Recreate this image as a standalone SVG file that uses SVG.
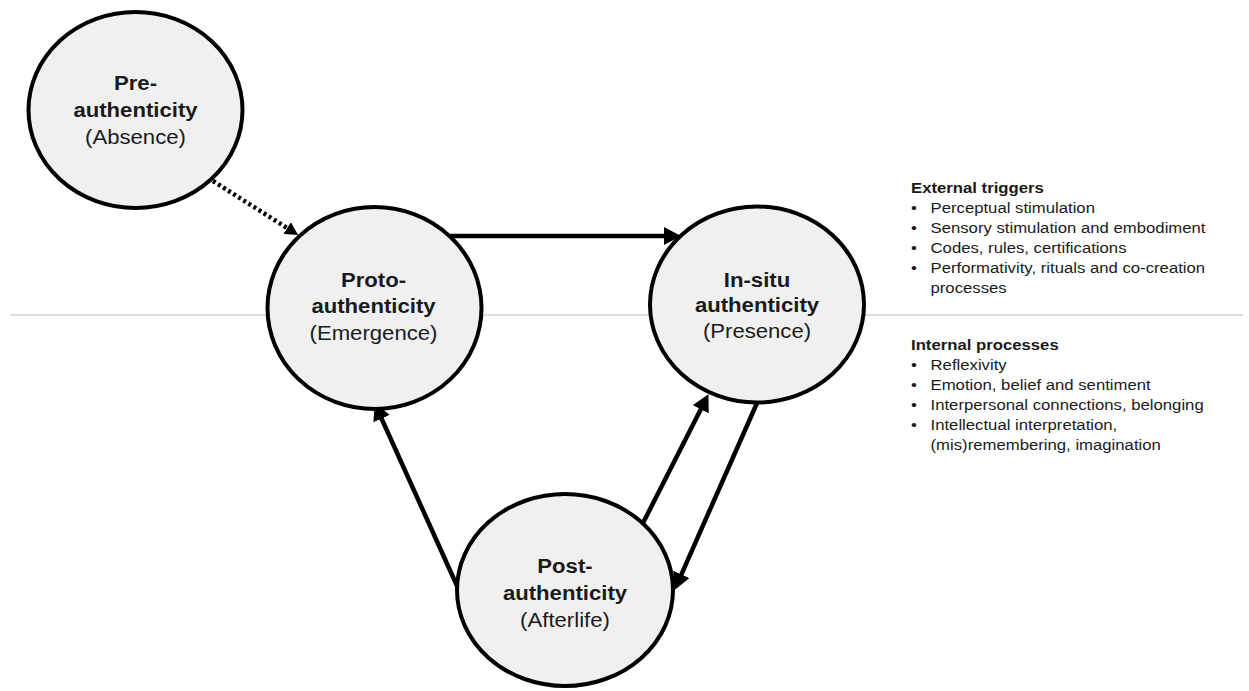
<svg xmlns="http://www.w3.org/2000/svg" width="1249" height="691" viewBox="0 0 1249 691">
<style>
.node ellipse{fill:#f0f0f0;stroke:#000;stroke-width:4}
.t{font-family:"Liberation Sans",Arial,sans-serif;fill:#1a1a1a;text-anchor:middle;font-size:20.5px}
.b{font-weight:bold}
.conn line{stroke:#000;stroke-width:4.5;fill:none}
.side{font-family:"Liberation Sans",Arial,sans-serif;fill:#1a1a1a;font-size:15px}
</style>
<defs>
<marker id="ah" markerUnits="userSpaceOnUse" viewBox="0 0 17 18" markerWidth="17" markerHeight="18" refX="1" refY="9" orient="auto"><path d="M0,0 L17,9 L0,18 z" fill="#000"/></marker>
<marker id="ahs" markerUnits="userSpaceOnUse" viewBox="0 0 13 14" markerWidth="13" markerHeight="14" refX="1" refY="7" orient="auto"><path d="M0,0 L13,7 L0,14 z" fill="#000"/></marker>
</defs>
<rect width="1249" height="691" fill="#fff"/>
<line x1="10" y1="315" x2="1243" y2="315" stroke="#d0d0d0" stroke-width="1.5"/>
<g class="conn" id="connectors">
<line x1="213" y1="181" x2="288" y2="228.6" stroke-dasharray="3 3" stroke-width="4" marker-end="url(#ahs)"/>
<line x1="450" y1="236" x2="665" y2="236" marker-end="url(#ah)"/>
<line x1="458" y1="588" x2="381.2" y2="417.7" marker-end="url(#ah)"/>
<line x1="643" y1="523" x2="701.2" y2="408.4" marker-end="url(#ah)"/>
<line x1="757" y1="403" x2="681" y2="575.3" marker-end="url(#ah)"/>
</g>
<g class="node" id="pre">
<ellipse cx="135.5" cy="110" rx="107" ry="98"/>
<g transform="translate(135.5,0) scale(1.08,1)">
<text class="t b" x="0" y="90">Pre-</text>
<text class="t b" x="0" y="117">authenticity</text>
<text class="t" x="0" y="144">(Absence)</text>
</g>
</g>
<g class="node" id="proto">
<ellipse cx="374.5" cy="308" rx="107" ry="101"/>
<g transform="translate(373.5,0) scale(1.08,1)">
<text class="t b" x="0" y="287">Proto-</text>
<text class="t b" x="0" y="313">authenticity</text>
<text class="t" x="0" y="340">(Emergence)</text>
</g>
</g>
<g class="node" id="insitu">
<ellipse cx="757" cy="304.5" rx="107" ry="98"/>
<g transform="translate(757,0) scale(1.08,1)">
<text class="t b" x="0" y="287">In-situ</text>
<text class="t b" x="0" y="312">authenticity</text>
<text class="t" x="0" y="338">(Presence)</text>
</g>
</g>
<g class="node" id="post">
<ellipse cx="565" cy="590" rx="108" ry="96"/>
<g transform="translate(565,0) scale(1.08,1)">
<text class="t b" x="0" y="573">Post-</text>
<text class="t b" x="0" y="600">authenticity</text>
<text class="t" x="0" y="627">(Afterlife)</text>
</g>
</g>
<g id="external-triggers" transform="translate(911,0) scale(1.115,1)">
<text class="side b" x="0" y="193">External triggers</text>
<text class="side" x="0" y="213">•</text><text class="side" x="17.5" y="213">Perceptual stimulation</text>
<text class="side" x="0" y="233">•</text><text class="side" x="17.5" y="233">Sensory stimulation and embodiment</text>
<text class="side" x="0" y="253">•</text><text class="side" x="17.5" y="253">Codes, rules, certifications</text>
<text class="side" x="0" y="273">•</text><text class="side" x="17.5" y="273">Performativity, rituals and co-creation</text>
<text class="side" x="17.5" y="293">processes</text>
</g>
<g id="internal-processes" transform="translate(911,0) scale(1.115,1)">
<text class="side b" x="0" y="350">Internal processes</text>
<text class="side" x="0" y="370">•</text><text class="side" x="17.5" y="370">Reflexivity</text>
<text class="side" x="0" y="390">•</text><text class="side" x="17.5" y="390">Emotion, belief and sentiment</text>
<text class="side" x="0" y="410">•</text><text class="side" x="17.5" y="410">Interpersonal connections, belonging</text>
<text class="side" x="0" y="430">•</text><text class="side" x="17.5" y="430">Intellectual interpretation,</text>
<text class="side" x="17.5" y="450">(mis)remembering, imagination</text>
</g>
</svg>
